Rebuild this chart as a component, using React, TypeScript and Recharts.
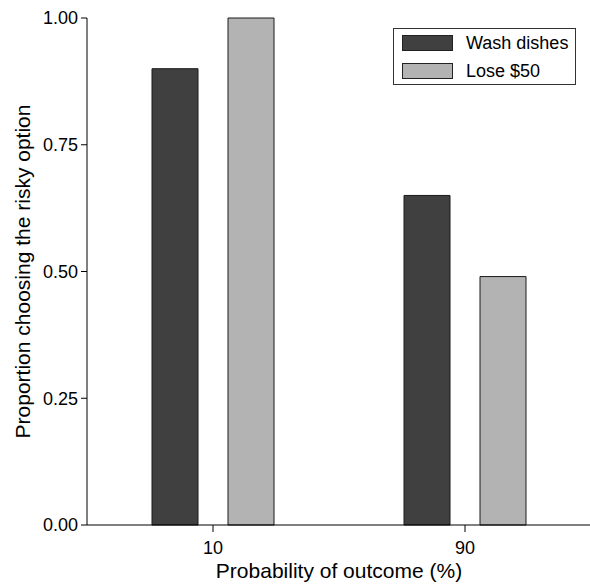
import React from 'react';
import { BarChart, Bar, XAxis, YAxis, Legend } from 'recharts';

const categories = ['10', '90'];
const washDishes = [0.9, 0.65];
const lose50 = [1.0, 0.49];
const seriesNames = ['Wash dishes', 'Lose $50'];
const yTicks = [0, 0.25, 0.5, 0.75, 1];

const data = categories.map((c, i) => ({ category: c, wash: washDishes[i], lose: lose50[i] }));

const font = '"Liberation Sans", Arial, Helvetica, sans-serif';

const LegendBox = (props: any) => {
  const items = [...(props.payload || [])].sort(
    (a: any, b: any) => seriesNames.indexOf(a.value) - seriesNames.indexOf(b.value)
  );
  return (
    <div
      style={{
        border: '1px solid #333',
        width: 181,
        height: 55,
        boxSizing: 'content-box',
        fontFamily: font,
        fontSize: 18,
        color: '#000',
        textAlign: 'left',
      }}
    >
      {items.map((p: any, i: number) => (
        <div key={i} style={{ display: 'flex', alignItems: 'center', height: 28 }}>
          <span
            style={{
              display: 'inline-block',
              width: 49,
              height: 14,
              background: p.color,
              border: '1px solid #222',
              marginLeft: 8,
              marginRight: 13,
            }}
          />
          <span>{p.value}</span>
        </div>
      ))}
    </div>
  );
};

const App: React.FC = () => {
  return (
    <div style={{ width: 590, height: 587, background: '#fff' }}>
      <style>{'body{margin:0}'}</style>
      <BarChart
        width={590}
        height={587}
        data={data}
        margin={{ top: 18, right: -1, left: 0, bottom: 0 }}
        barSize={46}
        barGap={30}
        style={{ fontFamily: font }}
      >
        <XAxis
          dataKey="category"
          height={62}
          tickSize={7}
          tickMargin={9}
          stroke="#000"
          tick={{ fill: '#000', fontSize: 18 }}
          label={{ value: 'Probability of outcome (%)', position: 'insideBottom', offset: 9, fill: '#000', fontSize: 21 }}
        />
        <XAxis xAxisId="top" dataKey="category" orientation="top" height={0} tick={false} tickLine={false} stroke="#000" />
        <YAxis
          width={87}
          domain={[0, 1]}
          ticks={yTicks}
          tickSize={6}
          tickMargin={3}
          stroke="#000"
          tick={{ fill: '#000', fontSize: 18 }}
          tickFormatter={(v: number) => v.toFixed(2)}
          label={{
            value: 'Proportion choosing the risky option',
            angle: -90,
            position: 'insideLeft',
            offset: 23,
            fill: '#000',
            fontSize: 21,
            style: { textAnchor: 'middle' },
          }}
        />
        <YAxis
          yAxisId="right"
          orientation="right"
          width={0}
          mirror
          domain={[0, 1]}
          ticks={yTicks}
          tickSize={5}
          stroke="#000"
          tickFormatter={() => ''}
        />
        <Legend
          layout="horizontal"
          verticalAlign="middle"
          align="center"
          content={<LegendBox />}
          wrapperStyle={{ top: 28, left: 393, width: 183, height: 57 }}
        />
        <Bar dataKey="wash" name={seriesNames[0]} fill="#404040" stroke="#1a1a1a" strokeWidth={1} isAnimationActive={false} />
        <Bar dataKey="lose" name={seriesNames[1]} fill="#b3b3b3" stroke="#1a1a1a" strokeWidth={1} isAnimationActive={false} />
      </BarChart>
    </div>
  );
};

export default App;
